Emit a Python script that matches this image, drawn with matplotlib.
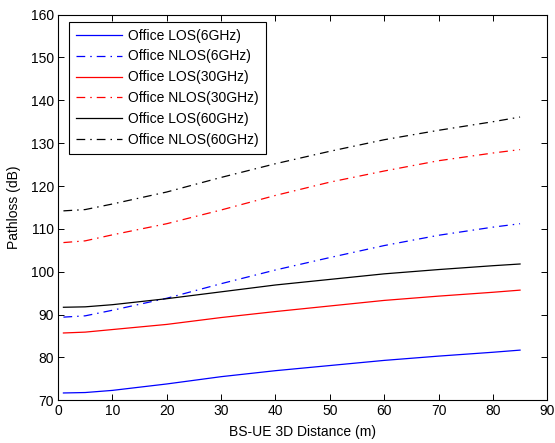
import matplotlib

matplotlib.use("Agg")
import matplotlib.pyplot as plt

plt.rcParams["font.family"] = ["Liberation Sans", "DejaVu Sans"]

# BS-UE 3D distance (m)
distance = [1, 5, 10, 20, 30, 40, 50, 60, 70, 80, 85]

# pathloss (dB) per scenario
los_6ghz = [71.7, 71.8, 72.3, 73.8, 75.5, 76.9, 78.1, 79.3, 80.3, 81.2, 81.7]
nlos_6ghz = [89.4, 89.7, 91.0, 93.8, 97.2, 100.4, 103.3, 106.1, 108.5, 110.4, 111.2]
los_30ghz = [85.7, 85.9, 86.5, 87.7, 89.3, 90.7, 92.0, 93.3, 94.3, 95.2, 95.7]
nlos_30ghz = [106.8, 107.2, 108.6, 111.2, 114.4, 117.8, 120.9, 123.5, 125.9, 127.7, 128.5]
los_60ghz = [91.7, 91.8, 92.3, 93.7, 95.3, 96.9, 98.2, 99.5, 100.5, 101.4, 101.8]
nlos_60ghz = [114.2, 114.5, 115.8, 118.6, 122.0, 125.2, 128.1, 130.8, 133.0, 135.0, 136.1]

labels = [
    "Office LOS(6GHz)",
    "Office NLOS(6GHz)",
    "Office LOS(30GHz)",
    "Office NLOS(30GHz)",
    "Office LOS(60GHz)",
    "Office NLOS(60GHz)",
]

x_ticks = list(range(0, 91, 10))
y_ticks = list(range(70, 161, 10))

dashdot = (0, (7, 4, 1.2, 4))

fig = plt.figure(figsize=(5.55, 4.43), dpi=100)
ax = fig.add_axes([0.1045, 0.0965, 0.8815, 0.8705])

series = [
    (los_6ghz, "#0000ff", "-"),
    (nlos_6ghz, "#0000ff", dashdot),
    (los_30ghz, "#ff0000", "-"),
    (nlos_30ghz, "#ff0000", dashdot),
    (los_60ghz, "#000000", "-"),
    (nlos_60ghz, "#000000", dashdot),
]
for (vals, color, ls), label in zip(series, labels):
    ax.plot(distance, vals, color=color, linestyle=ls, linewidth=0.9, label=label)

ax.set_xlim(0, 90)
ax.set_ylim(70, 160)
ax.set_xticks(x_ticks)
ax.set_yticks(y_ticks)
ax.tick_params(direction="in", length=4.5, width=0.7, top=True, right=True,
               labelsize=10, pad=3)
for sp in ax.spines.values():
    sp.set_linewidth(0.8)

ax.set_xlabel("BS-UE 3D Distance (m)", fontsize=10, labelpad=5)
ax.set_ylabel("Pathloss (dB)", fontsize=10, labelpad=7)

leg = ax.legend(
    loc="upper left",
    bbox_to_anchor=(0.022, 0.982),
    borderaxespad=0,
    fontsize=10,
    handlelength=3.3,
    handletextpad=0.5,
    labelspacing=0.5,
    borderpad=0.5,
    fancybox=False,
    framealpha=1,
    edgecolor="black",
)
leg.get_frame().set_linewidth(0.8)

fig.savefig("out.png", dpi=100)
plt.close(fig)
